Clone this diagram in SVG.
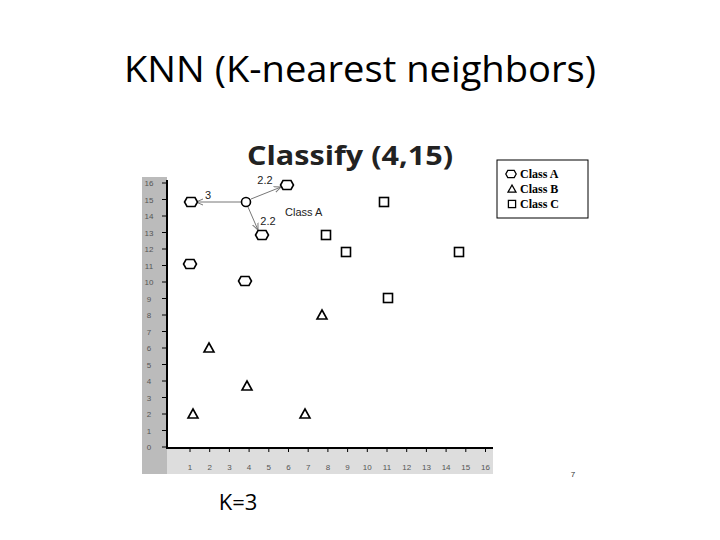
<svg xmlns="http://www.w3.org/2000/svg" width="720" height="540" viewBox="0 0 720 540">
<style>
.t{font-family:"Open Sans","Liberation Sans",sans-serif;fill:#000}
.ax{font-family:"Liberation Sans",sans-serif;font-size:8px;fill:#555;text-anchor:middle}
.m{fill:#fff;stroke:#000;stroke-width:1.6}
.ln{stroke:#777;stroke-width:1;fill:none}
.lab{font-family:"Liberation Sans",sans-serif;font-size:11px;fill:#222}
.lg{font-family:"Liberation Serif",serif;font-size:12px;font-weight:bold;fill:#000}
</style>
<defs>
<path id="hx" d="M-4,-4.5 H4 L6.5,0 L4,4.5 H-4 L-6.5,0 Z"/>
<path id="tr" d="M0,-5 L5,4 L-5,4 Z"/>
<rect id="sq" x="-4.5" y="-4.5" width="9" height="9"/>
<marker id="ar" markerWidth="8" markerHeight="8" refX="7" refY="4" orient="auto" markerUnits="userSpaceOnUse"><path d="M0,1 L7,4 L0,7" fill="none" stroke="#777" stroke-width="1"/></marker>
</defs>
<rect width="720" height="540" fill="#fff"/>
<text class="t" x="360" y="82" font-size="37" text-anchor="middle" textLength="472" lengthAdjust="spacingAndGlyphs">KNN (K-nearest neighbors)</text>
<text x="350" y="165" font-family="'Open Sans','Liberation Sans',sans-serif" font-size="27" font-weight="bold" fill="#222" text-anchor="middle" textLength="206" lengthAdjust="spacingAndGlyphs">Classify (4,15)</text>
<g id="axes">
<rect x="142" y="177" width="25" height="297" fill="#bbb"/>
<rect x="142" y="447" width="351" height="27" fill="#ddd"/>
<rect x="142" y="447" width="25" height="27" fill="#bbb"/>
<path d="M167,180 V448 H493" stroke="#000" stroke-width="2" fill="none"/>
<g stroke="#000" stroke-width="1">
<path d="M162,447h5M162,430.5h5M162,414h5M162,397.5h5M162,381h5M162,364.5h5M162,348h5M162,331.5h5M162,315h5M162,298.5h5M162,282h5M162,265.5h5M162,249h5M162,232.5h5M162,216h5M162,199.5h5M162,183h5"/>
<path d="M190,448v4M209.7,448v4M229.4,448v4M249.1,448v4M268.8,448v4M288.5,448v4M308.2,448v4M327.9,448v4M347.6,448v4M367.3,448v4M387,448v4M406.7,448v4M426.4,448v4M446.1,448v4M465.8,448v4M485.5,448v4"/>
</g>
<g class="ax">
<text x="149" y="450">0</text><text x="149" y="433.5">1</text><text x="149" y="417">2</text><text x="149" y="400.5">3</text><text x="149" y="384">4</text><text x="149" y="367.5">5</text><text x="149" y="351">6</text><text x="149" y="334.5">7</text><text x="149" y="318">8</text><text x="149" y="301.5">9</text><text x="149" y="285">10</text><text x="149" y="268.5">11</text><text x="149" y="252">12</text><text x="149" y="235.5">13</text><text x="149" y="219">14</text><text x="149" y="202.5">15</text><text x="149" y="186">16</text>
<text x="190" y="470">1</text><text x="209.7" y="470">2</text><text x="229.4" y="470">3</text><text x="249.1" y="470">4</text><text x="268.8" y="470">5</text><text x="288.5" y="470">6</text><text x="308.2" y="470">7</text><text x="327.9" y="470">8</text><text x="347.6" y="470">9</text><text x="367.3" y="470">10</text><text x="387" y="470">11</text><text x="406.7" y="470">12</text><text x="426.4" y="470">13</text><text x="446.1" y="470">14</text><text x="465.8" y="470">15</text><text x="485.5" y="470">16</text>
</g>
</g>
<g id="connectors">
<line class="ln" x1="241" y1="202" x2="196" y2="202" marker-end="url(#ar)"/>
<line class="ln" x1="251" y1="199" x2="281" y2="187" marker-end="url(#ar)"/>
<line class="ln" x1="248" y1="207" x2="258" y2="230" marker-end="url(#ar)"/>
<text class="lab" x="208" y="199" text-anchor="middle">3</text>
<text class="lab" x="265" y="184" text-anchor="middle">2.2</text>
<text class="lab" x="268" y="225" text-anchor="middle">2.2</text>
<text class="lab" x="285" y="216">Class A</text>
</g>
<g id="query"><circle class="m" cx="246" cy="202" r="4.5"/></g>
<g id="classA">
<use href="#hx" class="m" x="191" y="202"/><use href="#hx" class="m" x="287" y="185"/><use href="#hx" class="m" x="262" y="235"/><use href="#hx" class="m" x="190" y="264"/><use href="#hx" class="m" x="245" y="281"/>
</g>
<g id="classB">
<use href="#tr" class="m" x="193" y="414"/><use href="#tr" class="m" x="209" y="348"/><use href="#tr" class="m" x="247" y="386"/><use href="#tr" class="m" x="305" y="414"/><use href="#tr" class="m" x="322" y="315"/>
</g>
<g id="classC">
<use href="#sq" class="m" x="326" y="235"/><use href="#sq" class="m" x="346" y="252"/><use href="#sq" class="m" x="384" y="202"/><use href="#sq" class="m" x="388" y="298"/><use href="#sq" class="m" x="459" y="252"/>
</g>
<g id="legend">
<rect x="497" y="160" width="91" height="58" fill="#fff" stroke="#000" stroke-width="1"/>
<use href="#hx" class="m" x="511" y="174" transform="translate(511 174) scale(0.8) translate(-511 -174)"/>
<use href="#tr" class="m" x="512" y="189" transform="translate(512 189) scale(0.8) translate(-512 -189)"/>
<use href="#sq" class="m" x="512" y="204" transform="translate(512 204) scale(0.8) translate(-512 -204)"/>
<text class="lg" x="520" y="178">Class A</text>
<text class="lg" x="520" y="193">Class B</text>
<text class="lg" x="520" y="208">Class C</text>
</g>
<text x="573" y="477" font-family="'Liberation Sans',sans-serif" font-size="8" fill="#333" text-anchor="middle">7</text>
<text class="t" x="238" y="510" font-size="22" text-anchor="middle">K=3</text>
</svg>
